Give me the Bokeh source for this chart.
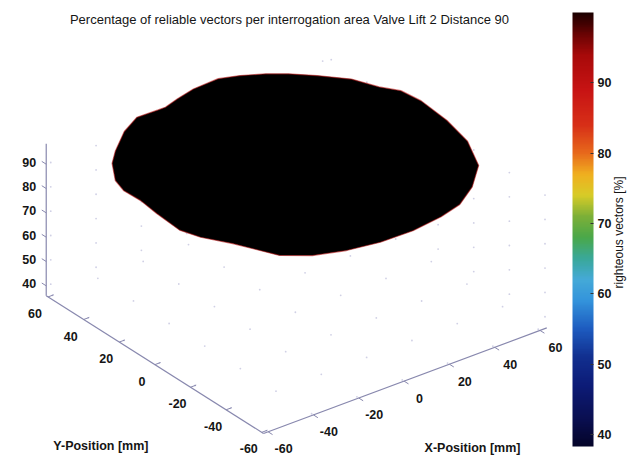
import numpy as np
from bokeh.plotting import figure
from bokeh.models import Range1d, LinearColorMapper, ColorBar, FixedTicker
from bokeh.core.properties import value
from bokeh.embed import file_html
from bokeh.resources import INLINE

# ---------------------------------------------------------------- data
TITLE = "Percentage of reliable vectors per interrogation area Valve Lift 2 Distance 90"
X_LABEL = "X-Position [mm]"
Y_LABEL = "Y-Position [mm]"
CBAR_LABEL = "righteous vectors [%]"

x_ticks = [-60, -40, -20, 0, 20, 40, 60]
y_ticks = [-60, -40, -20, 0, 20, 40, 60]
z_ticks = [40, 50, 60, 70, 80, 90]
cbar_ticks = [40, 50, 60, 70, 80, 90]

X_LIM = (-62.0, 63.0)
Y_LIM = (-61.0, 61.0)
Z_LIM = (35.9, 98.4)
C_LIM = (38.3, 100.0)

# outline of the area with valid vectors (polar coordinates, mm)
edge_angle_deg = [-168, -160, -149, -133, -123, -112, -100, -87, -74, -64,
                  -52, -38, -22, -7, 8, 17, 24, 34, 45, 54,
                  61, 69, 76, 86, 94, 101, 104, 112, 122, 135,
                  143, 154, 161, 169, 179]
edge_radius_mm = [62.7, 62.4, 61.3, 65.5, 65.4, 63.8, 62.5, 62.0, 62.4, 63.4,
                  63.2, 63.6, 62.2, 61.5, 63.1, 64.1, 62.3, 63.5, 63.1, 63.7,
                  64.3, 64.9, 65.4, 63.0, 60.9, 59.6, 60.3, 63.4, 63.1, 62.9,
                  63.6, 63.9, 63.0, 60.3, 60.4]
plateau_pct = 97.0   # reliable-vector share inside the area
rim_pct = 92.0       # share along the border cells

# colour scale anchors (value, colour)
cmap_values = [38.3, 42, 47, 51, 55, 59, 62, 65, 68, 71, 74, 77, 80, 84, 89, 94, 97, 100]
cmap_colors = ["#05052a", "#0a0f50", "#0d1c78", "#123090", "#1e5cc0", "#3494dc",
               "#45aad8", "#3aa89a", "#4aa84a", "#7cb038", "#d8cc28", "#f0b020",
               "#e86a1c", "#d83018", "#c81414", "#a80a0a", "#6a0404", "#1c0000"]

# ---------------------------------------------------------------- styling
W, H = 631, 458
FONT = "Liberation Sans"
AXIS_COLOR = "#8888ae"
GRID_COLOR = "#c4c4de"
TEXT_COLOR = "#151515"

VIEW_AZ, VIEW_EL = -37.5, 30.0
BOX_Z = 0.506
SCALE_H, SCALE_V = 357.0, 347.0
CENTER = (296.0, 222.7)


def project(x, y, z):
    x, y, z = np.broadcast_arrays(np.asarray(x, float), np.asarray(y, float), np.asarray(z, float))
    u = (x - X_LIM[0]) / (X_LIM[1] - X_LIM[0]) - 0.5
    v = (y - Y_LIM[0]) / (Y_LIM[1] - Y_LIM[0]) - 0.5
    w = ((z - Z_LIM[0]) / (Z_LIM[1] - Z_LIM[0]) - 0.5) * BOX_Z
    az, el = np.radians(VIEW_AZ), np.radians(VIEW_EL)
    across = u * np.cos(az) + v * np.sin(az)
    depth = -u * np.sin(az) + v * np.cos(az)
    sx = CENTER[0] + SCALE_H * across
    sy = CENTER[1] + SCALE_V * (depth * np.sin(el) + w * np.cos(el))
    return sx, sy


def build_palette(n=256):
    vals = np.linspace(C_LIM[0], C_LIM[1], n)
    rgb = np.array([[int(c[i:i + 2], 16) for i in (1, 3, 5)] for c in cmap_colors], float)
    chans = [np.interp(vals, cmap_values, rgb[:, k]) for k in range(3)]
    return ["#%02x%02x%02x" % (int(r), int(g), int(b)) for r, g, b in zip(*chans)]


palette = build_palette()
mapper = LinearColorMapper(palette=palette, low=C_LIM[0], high=C_LIM[1])


def color_of(val):
    i = int((val - C_LIM[0]) / (C_LIM[1] - C_LIM[0]) * (len(palette) - 1))
    return palette[max(0, min(len(palette) - 1, i))]


p = figure(width=W, height=H, x_range=Range1d(0, W), y_range=Range1d(0, H),
           x_axis_type=None, y_axis_type=None, toolbar_location=None,
           output_backend="svg", min_border=0, outline_line_color=None)
p.grid.visible = False
p.background_fill_color = "white"

# grid intersections on the floor and the two back walls
gx, gy, gz = [], [], []
for xt in x_ticks:
    for yt in y_ticks:
        gx.append(xt); gy.append(yt); gz.append(Z_LIM[0])
for xt in x_ticks:
    for zt in z_ticks:
        gx.append(xt); gy.append(Y_LIM[1]); gz.append(zt)
for yt in y_ticks:
    for zt in z_ticks:
        gx.append(X_LIM[1]); gy.append(yt); gz.append(zt)
sx, sy = project(gx, gy, gz)
p.scatter(sx, sy, size=1.8, color=GRID_COLOR, line_color=None, alpha=0.8)

# axis lines
xs, ys = [], []
for a, b in [((X_LIM[0], Y_LIM[0], Z_LIM[0]), (X_LIM[1], Y_LIM[0], Z_LIM[0])),
             ((X_LIM[0], Y_LIM[0], Z_LIM[0]), (X_LIM[0], Y_LIM[1], Z_LIM[0])),
             ((X_LIM[0], Y_LIM[1], Z_LIM[0]), (X_LIM[0], Y_LIM[1], Z_LIM[1]))]:
    px, py = project([a[0], b[0]], [a[1], b[1]], [a[2], b[2]])
    xs.append(list(px)); ys.append(list(py))
p.multi_line(xs, ys, line_color=AXIS_COLOR, line_width=1.2)

# tick marks
TL = 2.5
txs, tys = [], []
for xt in x_ticks:
    px, py = project([xt, xt], [Y_LIM[0], Y_LIM[0] - TL], Z_LIM[0])
    txs.append(list(px)); tys.append(list(py))
for yt in y_ticks:
    px, py = project([X_LIM[0], X_LIM[0] + TL], [yt, yt], Z_LIM[0])
    txs.append(list(px)); tys.append(list(py))
for zt in z_ticks:
    px, py = project(X_LIM[0], [Y_LIM[1], Y_LIM[1] + TL], [zt, zt])
    txs.append(list(px)); tys.append(list(py))
p.multi_line(txs, tys, line_color=AXIS_COLOR, line_width=1)

# the surface: plateau of reliable vectors (dense faceted mesh -> black)
th = np.radians(edge_angle_deg)
r = np.asarray(edge_radius_mm)
bx, by = project(r * np.cos(th), r * np.sin(th), plateau_pct)
p.patch(list(bx), list(by), fill_color="black", line_color=color_of(rim_pct),
        line_width=1.2, line_alpha=0.55)

# tick labels
tick_kw = dict(text_font=value(FONT), text_font_size=value("12.5px"), text_font_style="bold",
               text_color=TEXT_COLOR, text_baseline="middle")
px, py = project(x_ticks, Y_LIM[0], Z_LIM[0])
p.text(px + 15.5, py - 17, text=[str(t) for t in x_ticks], text_align="center", **tick_kw)
px, py = project(X_LIM[0], y_ticks, Z_LIM[0])
p.text(px - 13, py - 16.5, text=[str(t) for t in y_ticks], text_align="center", **tick_kw)
px, py = project(X_LIM[0], Y_LIM[1], z_ticks)
p.text(px - 10, py + 2, text=[str(t) for t in z_ticks], text_align="right", **tick_kw)

# axis labels
px, py = project(0, Y_LIM[0], Z_LIM[0])
p.text([px + 68.5], [py - 66.5], text=[X_LABEL], text_align="center", **tick_kw)
px, py = project(X_LIM[0], 0, Z_LIM[0])
p.text([px - 54], [py - 81], text=[Y_LABEL], text_align="center", **tick_kw)

# title
p.text([289], [H - 19], text=[TITLE], text_align="center", text_baseline="middle",
       text_font=value(FONT), text_font_size=value("13px"), text_color=TEXT_COLOR)

# colour bar
cb = ColorBar(color_mapper=mapper, location=(572, 12), width=21, height=434,
              orientation="vertical", padding=0, ticker=FixedTicker(ticks=cbar_ticks),
              major_label_text_font=FONT, major_label_text_font_size="12.5px",
              major_label_text_font_style="bold", major_label_text_color=TEXT_COLOR,
              label_standoff=4, major_tick_line_color="#333333", major_tick_in=3,
              major_tick_out=0, bar_line_color=None, border_line_color=None,
              background_fill_alpha=0)
p.add_layout(cb, "center")
p.text([618], [226], text=[CBAR_LABEL], angle=np.pi / 2, text_align="center",
       text_baseline="middle", text_font=value(FONT), text_font_size=value("12px"),
       text_color=TEXT_COLOR)

open("out.html", "w").write(file_html(p, INLINE))
